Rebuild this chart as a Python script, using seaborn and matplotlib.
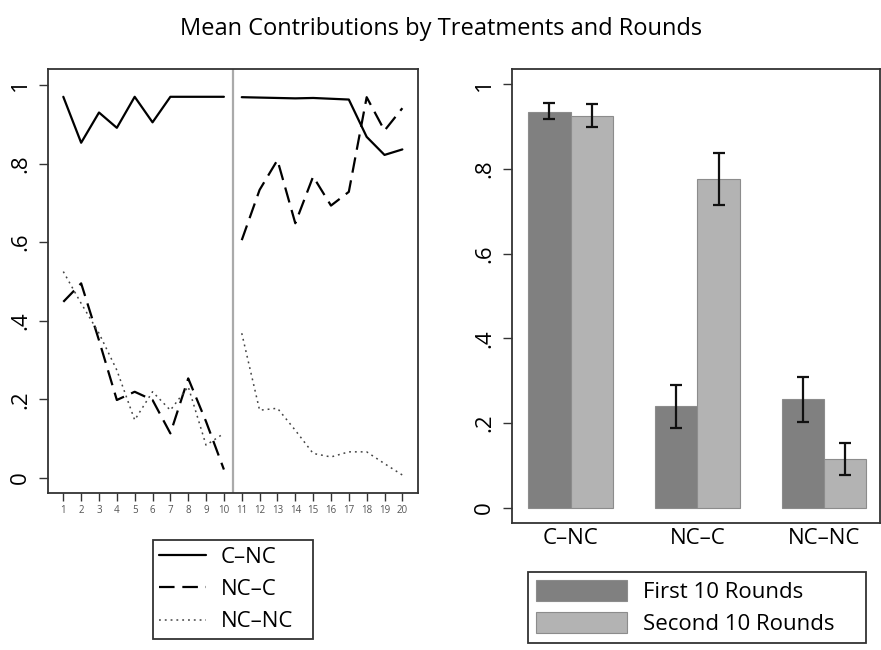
import matplotlib
matplotlib.use('Agg')
import matplotlib.pyplot as plt
from matplotlib.lines import Line2D
from matplotlib.patches import Patch
import pandas as pd
import numpy as np
import seaborn as sns

rounds = list(range(1, 21))
c_nc = [0.970, 0.853, 0.930, 0.891, 0.970, 0.905, 0.970, 0.970, 0.970, 0.970,
        0.969, 0.968, 0.967, 0.966, 0.967, 0.965, 0.963, 0.868, 0.822, 0.836]
nc_c = [0.448, 0.495, 0.350, 0.198, 0.219, 0.198, 0.113, 0.253, 0.143, 0.021,
        0.605, 0.733, 0.809, 0.648, 0.767, 0.693, 0.728, 0.969, 0.884, 0.941]
nc_nc = [0.525, 0.444, 0.368, 0.274, 0.147, 0.219, 0.172, 0.232, 0.083, 0.113,
         0.368, 0.172, 0.177, 0.121, 0.062, 0.053, 0.066, 0.066, 0.036, 0.007]

treatments = ['C–NC', 'NC–C', 'NC–NC']
halves = ['First 10 Rounds', 'Second 10 Rounds']
first_mean = [0.936, 0.240, 0.256]
first_lo = [0.918, 0.188, 0.203]
first_hi = [0.957, 0.291, 0.308]
second_mean = [0.926, 0.777, 0.115]
second_lo = [0.900, 0.715, 0.077]
second_hi = [0.954, 0.838, 0.153]

sns.set_style('white')
plt.rcParams['font.family'] = ['Open Sans', 'DejaVu Sans']
plt.rcParams['text.color'] = 'black'
plt.rcParams['xtick.color'] = 'black'
plt.rcParams['ytick.color'] = 'black'

fig = plt.figure(figsize=(8.81, 6.5), dpi=100)
W, H = 881, 650

def px_axes(x0, y0, x1, y1):
    return fig.add_axes([x0 / W, 1 - y1 / H, (x1 - x0) / W, (y1 - y0) / H])

spine_col = '#333333'

# ---- left: lines by round
ax1 = px_axes(48.3, 69.3, 417.7, 492.7)
lines_df = pd.DataFrame({
    'round': rounds * 3,
    'value': c_nc + nc_c + nc_nc,
    'treatment': [t for t in treatments for _ in rounds],
    'half': [1 if r <= 10 else 2 for r in rounds] * 3,
})
styles = {'C–NC': '', 'NC–C': (7, 3.5), 'NC–NC': (1, 2.5)}
sns.lineplot(data=lines_df, x='round', y='value', hue='treatment', style='treatment',
             units='half', estimator=None, palette={'C–NC': 'black', 'NC–C': 'black', 'NC–NC': '#444444'},
             dashes=styles, linewidth=1.6, legend=False, ax=ax1)
for ln in ax1.lines:
    if ln.get_color() == '#444444':
        ln.set_linewidth(1.1)
        ln.set_dashes((1.2, 2.6))
ax1.axvline(10.5, color='#aaaaaa', lw=1.6, zorder=0)
ax1.set_xlim(0.159, 20.86)
ax1.set_ylim(-0.038, 1.040)
ax1.set_xticks(rounds)
ax1.set_xticklabels([str(r) for r in rounds], fontsize=7, color='#555555')
ax1.set_yticks([0, 0.2, 0.4, 0.6, 0.8, 1])
ax1.set_yticklabels(['0', '.2', '.4', '.6', '.8', '1'], fontsize=16, rotation=90, va='center')
ax1.set_xlabel('')
ax1.set_ylabel('')

handles = [Line2D([], [], color='black', lw=1.6, linestyle='-'),
           Line2D([], [], color='black', lw=1.6, dashes=(7, 3.5)),
           Line2D([], [], color='#444444', lw=1.1, dashes=(1.2, 2.6))]
leg1 = fig.legend(handles, treatments, loc='center', mode='expand',
                  bbox_to_anchor=(152.7 / W, 1 - 646.7 / H, (313 - 152.7) / W, (646.7 - 532.7) / H),
                  fontsize=16, handlelength=2.1, handletextpad=0.65, labelspacing=0.5,
                  borderpad=0.3, frameon=True, fancybox=False, borderaxespad=0)

# ---- right: bars by treatment
ax2 = px_axes(512.3, 69.3, 880, 522.7)
bars_df = pd.DataFrame({
    'treatment': treatments * 2,
    'half': [halves[0]] * 3 + [halves[1]] * 3,
    'mean': first_mean + second_mean,
    'lo': first_lo + second_lo,
    'hi': first_hi + second_hi,
})
bar_cols = {halves[0]: '#808080', halves[1]: '#b3b3b3'}
sns.barplot(data=bars_df, x='treatment', y='mean', hue='half', palette=bar_cols,
            saturation=1, width=0.67, gap=0, errorbar=None, legend=False, ax=ax2,
            edgecolor='#8c8c8c', linewidth=0.8)
for patch, (_, row) in zip(ax2.patches, bars_df.iterrows()):
    cx = patch.get_x() + patch.get_width() / 2
    ax2.errorbar(cx, row['mean'], yerr=[[row['mean'] - row['lo']], [row['hi'] - row['mean']]],
                 fmt='none', ecolor='#111111', elinewidth=1.6, capsize=4.6, capthick=1.6)
ax2.set_xlim(-0.461, 2.442)
ax2.set_ylim(-0.0354, 1.0357)
ax2.set_yticks([0, 0.2, 0.4, 0.6, 0.8, 1])
ax2.set_yticklabels(['0', '.2', '.4', '.6', '.8', '1'], fontsize=16, rotation=90, va='center')
ax2.tick_params(axis='x', length=0, labelsize=16, pad=4)
ax2.set_xlabel('')
ax2.set_ylabel('')

handles2 = [Patch(facecolor=bar_cols[h], edgecolor='#8c8c8c', lw=0.8) for h in halves]
leg2 = fig.legend(handles2, halves, loc='center', mode='expand',
                  bbox_to_anchor=(528.3 / W, 1 - 646.7 / H, (865.7 - 528.3) / W, (646.7 - 567.7) / H),
                  fontsize=16, handlelength=4.1, handleheight=1.1, handletextpad=0.7,
                  labelspacing=0.4, borderpad=0.35, frameon=True, fancybox=False, borderaxespad=0)

for leg in (leg1, leg2):
    fr = leg.get_frame()
    fr.set_edgecolor(spine_col)
    fr.set_linewidth(1.3)
    fr.set_alpha(1)

for ax in (ax1, ax2):
    for s in ax.spines.values():
        s.set_visible(True)
        s.set_color(spine_col)
        s.set_linewidth(1.3)
    ax.tick_params(axis='y', length=6.5, width=1, color=spine_col, pad=6, left=True)
ax1.tick_params(axis='x', length=6, width=1, color=spine_col, pad=3, bottom=True)

fig.suptitle('Mean Contributions by Treatments and Rounds', x=0.501, y=1 - 29 / H,
             va='center', fontsize=17)

fig.savefig('out.png', dpi=100)
